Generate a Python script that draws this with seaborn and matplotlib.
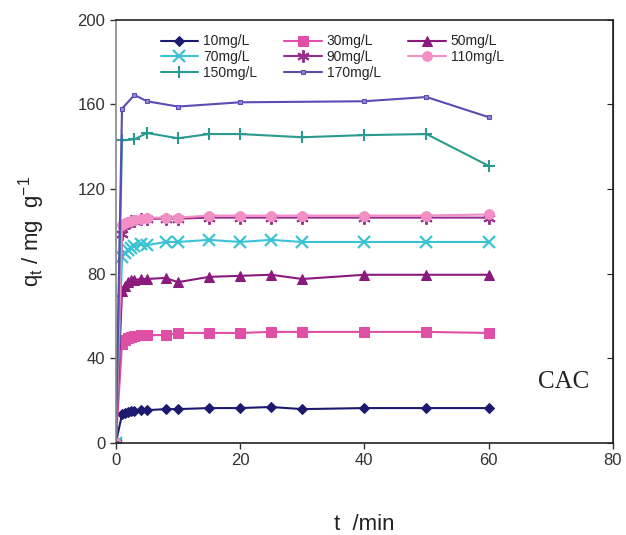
import matplotlib
matplotlib.use("Agg")
import matplotlib.pyplot as plt
import seaborn as sns
import pandas as pd

# ---- data ----
series_labels = ["10mg/L", "30mg/L", "50mg/L", "70mg/L", "90mg/L", "110mg/L", "150mg/L", "170mg/L"]

t_common = [0, 1, 1.5, 2, 2.5, 3, 4, 5, 8, 10, 15, 20, 25, 30, 40, 50, 60]
q10 = [0, 13.5, 14, 14.5, 15, 15, 15.5, 15.5, 16, 16, 16.5, 16.5, 17, 16, 16.5, 16.5, 16.5]
q30 = [0, 47, 48.5, 49.5, 50, 50.5, 51, 51, 51, 52, 52, 52, 52.5, 52.5, 52.5, 52.5, 52]
q50 = [0, 72, 74, 76, 77, 77, 77.5, 77.5, 78, 76, 78.5, 79, 79.5, 77.5, 79.5, 79.5, 79.5]
q70 = [0, 88, 90, 91, 92, 93, 94, 93.5, 95, 95, 96, 95, 96, 95, 95, 95, 95]
q90 = [0, 99, 103, 104, 105, 105, 106, 106, 106, 106, 106.5, 106.5, 106.5, 106.5, 106.5, 106.5, 106.5]
q110 = [0, 103, 104, 104.5, 105, 105.5, 106, 106.5, 106.5, 106.5, 107.5, 107.5, 107.5, 107.5, 107.5, 107.5, 108]
t150 = [0, 1, 3, 5, 10, 15, 20, 30, 40, 50, 60]
q150 = [0, 143, 143.5, 146.5, 144, 146, 146, 144.5, 145.5, 146, 131]
t170 = [0, 1, 3, 5, 10, 20, 40, 50, 60]
q170 = [0, 158, 164.5, 161.5, 159, 161, 161.5, 163.5, 154]

x_ticks = [0, 20, 40, 60, 80]
y_ticks = [0, 40, 80, 120, 160, 200]

# ---- build tables ----
series_data = {
    "10mg/L": (t_common, q10), "30mg/L": (t_common, q30), "50mg/L": (t_common, q50),
    "70mg/L": (t_common, q70), "90mg/L": (t_common, q90), "110mg/L": (t_common, q110),
    "150mg/L": (t150, q150), "170mg/L": (t170, q170),
}

colors = {
    "10mg/L": "#1c1a6e",
    "30mg/L": "#e04fa6",
    "50mg/L": "#8a1a7c",
    "70mg/L": "#3cc3d3",
    "90mg/L": "#9a2e8e",
    "110mg/L": "#f28fc4",
    "150mg/L": "#2a9a8e",
    "170mg/L": "#5a4cb2",
}
styles = {
    "10mg/L": dict(marker="D", markersize=5.5),
    "30mg/L": dict(marker="s", markersize=7),
    "50mg/L": dict(marker="^", markersize=7),
    "70mg/L": dict(marker="x", markersize=8, markeredgewidth=1.6),
    "90mg/L": dict(marker=(6, 2, 0), markersize=9, markeredgewidth=1.4),
    "110mg/L": dict(marker="o", markersize=7),
    "150mg/L": dict(marker="+", markersize=9, markeredgewidth=1.5),
    "170mg/L": dict(marker="s", markersize=3.5, markerfacecolor="#8e86d0"),
}

sns.set_style("white")
plt.rcParams["font.family"] = ["Liberation Sans", "DejaVu Sans"]

fig = plt.figure(figsize=(6.26, 5.35), dpi=100)
ax = fig.add_axes([0.185, 0.172, 0.794, 0.791])

for lab in series_labels:
    t, q = series_data[lab]
    d = pd.DataFrame({"t": t, "q": q})
    st = dict(styles[lab])
    st.setdefault("markeredgecolor", colors[lab])
    sns.lineplot(data=d, x="t", y="q", color=colors[lab], linewidth=1.5,
                 label=lab, ax=ax, **st)

ax.set_xlim(0, 80)
ax.set_ylim(0, 200)
ax.set_xticks(x_ticks)
ax.set_yticks(y_ticks)
ax.tick_params(axis="both", labelsize=12, colors="#333333", length=4, width=1)
ax.tick_params(axis="x", direction="out", bottom=True, top=False)
ax.tick_params(axis="y", direction="out", left=True, right=False)

for side in ["top", "right", "bottom"]:
    ax.spines[side].set_visible(True)
    ax.spines[side].set_color("#222222")
    ax.spines[side].set_linewidth(1.2)
ax.spines["left"].set_color("#888888")
ax.spines["left"].set_linewidth(1.2)

sec = ax.secondary_yaxis("right")
sec.set_yticks(y_ticks)
sec.tick_params(direction="in", length=4, labelright=False, colors="#222222")
sec.spines["right"].set_color("#222222")

ax.set_xlabel("t  /min", fontsize=16, color="#222222", labelpad=33)
ax.set_ylabel("q$_\\mathregular{t}$ / mg  g$^\\mathregular{-1}$", fontsize=16, color="#222222", labelpad=22)

handles, labels = ax.get_legend_handles_labels()
hmap = dict(zip(labels, handles))
order = ["10mg/L", "70mg/L", "150mg/L", "30mg/L", "90mg/L", "170mg/L", "50mg/L", "110mg/L"]
ax.legend([hmap[o] for o in order], order, ncol=3, frameon=False,
          loc="upper left", bbox_to_anchor=(0.065, 0.995), fontsize=10,
          handlelength=2.7, columnspacing=1.95, labelspacing=0.12,
          handletextpad=0.36)

ax.text(0.90, 0.145, "CAC", transform=ax.transAxes, fontsize=18,
        family=["Liberation Serif", "DejaVu Serif"], color="#222222",
        ha="center", va="center")

fig.savefig("out.png", dpi=100)
